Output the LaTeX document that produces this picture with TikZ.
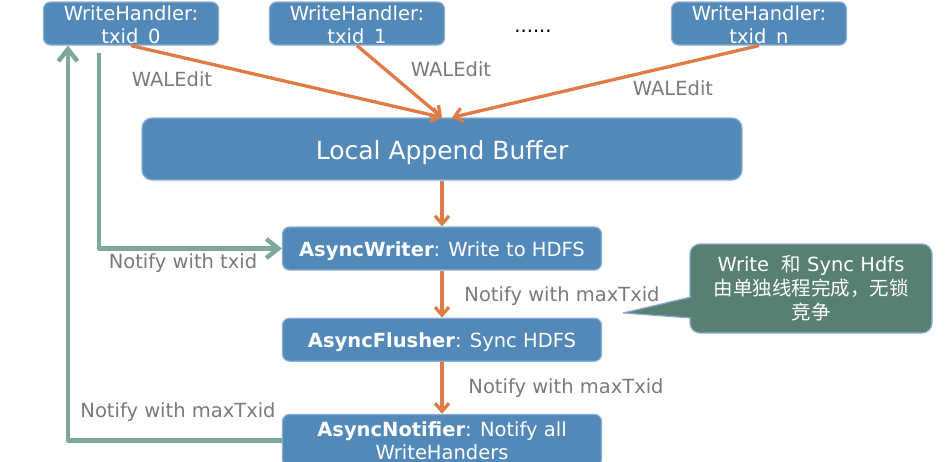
\documentclass[tikz,border=0pt]{standalone}
\usepackage{fontspec}
\setmainfont{DejaVu Sans}
\newfontfamily\cjk{Noto Sans CJK SC}
\usetikzlibrary{calc,shapes,arrows.meta,positioning}
\definecolor{boxblue}{HTML}{5389B9}
\definecolor{boxline}{HTML}{8AAED3}
\definecolor{walorange}{HTML}{E07B45}
\definecolor{notegreen}{HTML}{577F73}
\definecolor{backgreen}{HTML}{7DA89B}
\definecolor{labelgray}{HTML}{7F7878}
\tikzset{
     box/.style = {draw=boxline, line width=1.2pt, fill=boxblue, rounded corners=7pt,
        text=white, align=center, inner sep=0pt, font=\fontsize{19.5}{23}\selectfont},
     handler/.style = {box, minimum width=175pt, minimum height=43pt,
        text height=41pt, text depth=2pt},
     stage/.style = {box, minimum width=319pt, minimum height=43pt,
        text height=19pt, text depth=4pt},
     lbl/.style = {text=labelgray, font=\fontsize{19.5}{23}\selectfont},
     walarrow/.style = {walorange, line width=3.3pt, -{Straight Barb[length=8pt,width=14pt]}},
     notifyarrow/.style = {backgreen, line width=4.5pt, line join=round,
        -{Straight Barb[length=12pt,width=19pt]}},
    }

\begin{document}
\begin{tikzpicture}[x=1pt, y=-1pt]
        \useasboundingbox (0,0) rectangle (946,461);

        % write handlers
        \node [handler] (h0) at (131,23.5) {WriteHandler:\\txid\_0};
        \node [handler] (h1) at (357,23.5) {WriteHandler:\\txid\_1};
        \node [handler] (hn) at (759,23.5) {WriteHandler:\\txid\_n};
        \node (dots) at (533,31) {\fontsize{19.5}{23}\selectfont ......};

        % pipeline
        \node [box, minimum width=600pt, minimum height=62pt, rounded corners=10pt,
               text height=26pt, text depth=6pt,
               font=\fontsize{25}{30}\selectfont] (buf) at (442,149) {Local Append Buffer};
        \node [stage] (writer) at (442,248.5) {\textbf{AsyncWriter}: Write to HDFS};
        \node [stage] (flusher) [below=47pt of writer] {\textbf{AsyncFlusher}: Sync HDFS};
        \node [stage, minimum height=52pt, text height=41pt, text depth=3pt]
              (notifier) [below=52pt of flusher]
              {\textbf{AsyncNotifier}: Notify all\\WriteHanders};

        % note
        \node [draw=boxline, line width=1.2pt, fill=notegreen,
               rounded corners=10pt, text=white, align=center, inner sep=0pt,
               minimum width=242pt, minimum height=89pt, font=\fontsize{19.5}{24}\selectfont]
              (note) at (811,288.5)
              {Write \ {\cjk 和} Sync Hdfs\\{\cjk 由单独线程完成，无锁}\\{\cjk 竞争}};
        \coordinate (tip) at (623,313);
        \draw [boxline, line width=1.2pt, fill=notegreen, line join=round]
              ($(note.west)+(1.5,8.5)$) -- (tip) -- ($(note.west)+(1.5,29.5)$);

        \path[walarrow]
        (h0.south) edge (buf.north)
        (h1.south) edge (buf.north)
        (hn.south) edge ([xshift=10pt]buf.north)
        (buf) edge (writer)
        (writer) edge (flusher)
        (flusher) edge (notifier);

        \draw[notifyarrow] ($(h0.south west)+(56,7)$) |- (writer.west);
        \draw[notifyarrow] (notifier.west) -| ($(h0.south west)+(25,0)$);

        % labels
        \node [lbl] at (172,79) {WALEdit};
        \node [lbl] at (451,69) {WALEdit};
        \node [lbl] at (673,88) {WALEdit};
        \node [lbl] at (183,263) {Notify with txid};
        \node [lbl] at (562,296) {Notify with maxTxid};
        \node [lbl] at (566,388) {Notify with maxTxid};
        \node [lbl] at (178,412) {Notify with maxTxid};
    \end{tikzpicture}
\end{document}
